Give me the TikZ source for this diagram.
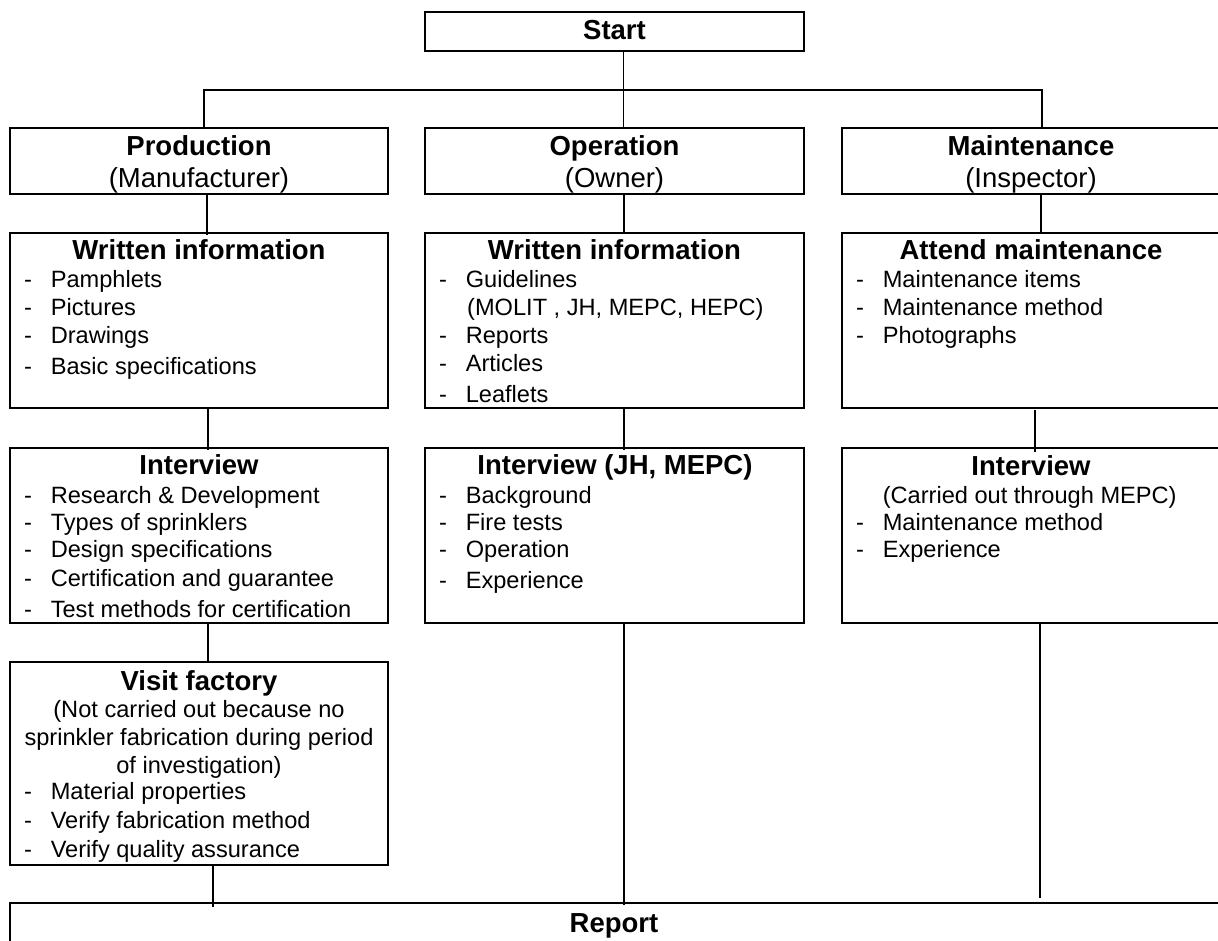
\documentclass[tikz,border=0pt]{standalone}
\usepackage{fontspec}
\setmainfont{Liberation Sans}
\usetikzlibrary{calc}
\newcommand\myitem[4]{%
  \node[dsh] (#1d) at (#2,#3) {-};
  \node[txt] (#1) at (#2+26.6,#3) {#4};}
\begin{document}
\begin{tikzpicture}[x=1pt,y=-1pt,
  box/.style={draw, line width=2pt, inner sep=0pt, outer sep=0pt},
  ttl/.style={font=\fontsize{27.5}{30}\selectfont\bfseries, inner sep=0pt, anchor=base},
  sub/.style={font=\fontsize{27.5}{30}\selectfont, inner sep=0pt, anchor=base},
  txt/.style={font=\fontsize{23.6}{27}\selectfont, inner sep=0pt, anchor=base west},
  dsh/.style={font=\fontsize{23.6}{27}\selectfont, inner sep=0pt, anchor=base west},
  ctr/.style={font=\fontsize{23.6}{27}\selectfont, inner sep=0pt, anchor=base},
  link/.style={line width=1.4pt}]
\useasboundingbox (0,0) rectangle (1218,940);
\clip (0,0) rectangle (1218,940);
\fill[white] (0,0) rectangle (1218,940);

% boxes
\node[box, minimum width=379pt, minimum height=39pt] (start) at (614.5,31.5) {};
\node[box, minimum width=378pt, minimum height=66pt] (prod) at (199,161) {};
\node[box, minimum width=379pt, minimum height=66pt] (oper) at (614.5,161) {};
\node[box, minimum width=380pt, minimum height=66pt] (maint) at (1032,161) {};
\node[box, minimum width=378pt, minimum height=175pt] (wp) at (199,320.5) {};
\node[box, minimum width=379pt, minimum height=175pt] (wo) at (614.5,320.5) {};
\node[box, minimum width=380pt, minimum height=175pt] (wm) at (1032,320.5) {};
\node[box, minimum width=378pt, minimum height=175pt] (ip) at (199,535.5) {};
\node[box, minimum width=379pt, minimum height=175pt] (io) at (614.5,535.5) {};
\node[box, minimum width=380pt, minimum height=175pt] (im) at (1032,535.5) {};
\node[box, minimum width=378pt, minimum height=203pt] (vf) at (199,763.5) {};
\node[box, minimum width=1230pt, minimum height=60pt] (report) at (625,933) {};

% connectors
\coordinate (bus) at (623.5,90);
\draw[link] ($(start.south)+(9,0)$) -- ($(oper.north)+(9,0)$);
\draw[link] ($(prod.north)+(5,0)$) |- (bus) -| ($(maint.north)+(10,0)$);
\draw[link] ($(prod.south)+(8,0)$) -- ($(wp.north)+(8,2)$);
\draw[link] ($(oper.south)+(9.5,0)$) -- ($(wo.north)+(9.5,0)$);
\draw[link] ($(maint.south)+(9,0)$) -- ($(wm.north)+(9,0)$);
\draw[link] ($(wp.south)+(9,0)$) -- ($(ip.north)+(9,2)$);
\draw[link] ($(wo.south)+(9.5,0)$) -- ($(io.north)+(9.5,2)$);
\draw[link] ($(wm.south)+(3,2)$) -- ($(im.north)+(3,4)$);
\draw[link] ($(ip.south)+(9,0)$) -- ($(vf.north)+(9,1)$);
\draw[link] ($(vf.south)+(14,0)$) -- ($(vf.south |- report.north)+(14,4)$);
\draw[link] ($(io.south)+(9.5,0)$) -- ($(io.south |- report.north)+(9.5,2)$);
\draw[link] ($(im.south)+(8,0)$) -- ($(im.south |- report.north)+(8,-5)$);

% texts
\node[ttl] (tstart) at (614.5,39) {Start};
\node[ttl] (tprod) at (199,155) {Production};
\node[sub] (sprod) at (199,187) {(Manufacturer)};
\node[ttl] (toper) at (614.5,155) {Operation};
\node[sub] (soper) at (614.5,187) {(Owner)};
\node[ttl] (tmaint) at (1031,155) {Maintenance};
\node[sub] (smaint) at (1031,187) {(Inspector)};

\node[ttl] (twp) at (199,259) {Written information};
\myitem{wp1}{24}{287}{Pamphlets}
\myitem{wp2}{24}{315}{Pictures}
\myitem{wp3}{24}{343}{Drawings}
\myitem{wp4}{24}{374}{Basic specifications}

\node[ttl] (two) at (614.5,259) {Written information};
\myitem{wo1}{439}{287}{Guidelines}
\node[txt] (wo1b) at (467,315) {(MOLIT , JH, MEPC, HEPC)};
\myitem{wo2}{439}{343}{Reports}
\myitem{wo3}{439}{371}{Articles}
\myitem{wo4}{439}{402}{Leaflets}

\node[ttl] (twm) at (1031,259) {Attend maintenance};
\myitem{wm1}{856}{287}{Maintenance items}
\myitem{wm2}{856}{315}{Maintenance method}
\myitem{wm3}{856}{343}{Photographs}

\node[ttl] (tip) at (199,474) {Interview};
\myitem{ip1}{24}{503}{Research \& Development}
\myitem{ip2}{24}{530}{Types of sprinklers}
\myitem{ip3}{24}{557}{Design specifications}
\myitem{ip4}{24}{586}{Certification and guarantee}
\myitem{ip5}{24}{617}{Test methods for certification}

\node[ttl] (tio) at (615,474) {Interview (JH, MEPC)};
\myitem{io1}{439}{503}{Background}
\myitem{io2}{439}{530}{Fire tests}
\myitem{io3}{439}{557}{Operation}
\myitem{io4}{439}{588}{Experience}

\node[ttl] (tim) at (1031,475) {Interview};
\node[txt] (im0) at (882.6,503) {(Carried out through MEPC)};
\myitem{im1}{856}{530}{Maintenance method}
\myitem{im2}{856}{557}{Experience}

\node[ttl] (tvf) at (199,690) {Visit factory};
\node[ctr] (vfa) at (199,717) {(Not carried out because no};
\node[ctr] (vfb) at (199,745) {sprinkler fabrication during period};
\node[ctr] (vfc) at (199,773) {of investigation)};
\myitem{vf1}{24}{799}{Material properties}
\myitem{vf2}{24}{828}{Verify fabrication method}
\myitem{vf3}{24}{857}{Verify quality assurance}

\node[ttl] (trep) at (614,932) {Report};
\end{tikzpicture}
\end{document}
